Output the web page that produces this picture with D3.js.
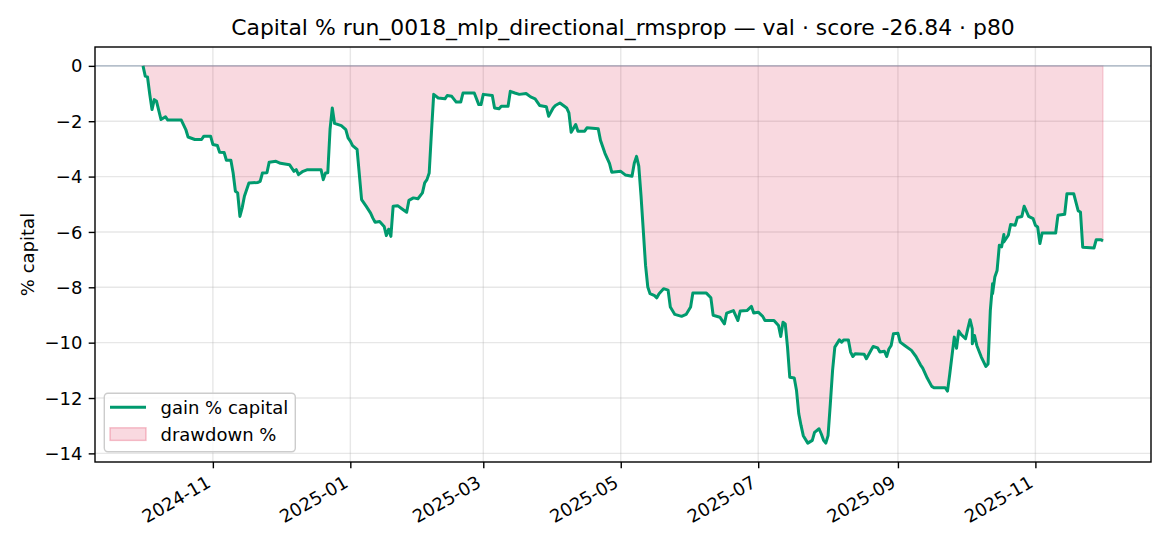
<!DOCTYPE html>
<html><head><meta charset="utf-8">
<script src="https://cdn.jsdelivr.net/npm/d3@7"></script>
<style>
html,body{margin:0;padding:0;background:#fff;}
text{font-family:"DejaVu Sans",sans-serif;fill:#000;}
</style></head><body>
<svg id="chart" width="1170" height="546"></svg>
<script>
// ---------------- data ----------------
const dates = [
"2024-10-01","2024-10-02","2024-10-03","2024-10-04","2024-10-05","2024-10-06","2024-10-07","2024-10-09","2024-10-11","2024-10-12",
"2024-10-18","2024-10-20","2024-10-21","2024-10-24","2024-10-27","2024-10-28","2024-10-31","2024-11-01","2024-11-03","2024-11-04",
"2024-11-06","2024-11-07","2024-11-09","2024-11-10","2024-11-11","2024-11-12","2024-11-13","2024-11-14","2024-11-15","2024-11-17",
"2024-11-21","2024-11-22","2024-11-23","2024-11-25","2024-11-26","2024-11-29","2024-12-01","2024-12-05","2024-12-07","2024-12-08",
"2024-12-09","2024-12-11","2024-12-13","2024-12-19","2024-12-20","2024-12-21","2024-12-22","2024-12-23","2024-12-24","2024-12-25",
"2024-12-28","2024-12-30","2024-12-31","2025-01-01","2025-01-02","2025-01-04","2025-01-06","2025-01-08","2025-01-10","2025-01-11",
"2025-01-12","2025-01-14","2025-01-16","2025-01-17","2025-01-18","2025-01-19","2025-01-20","2025-01-22","2025-01-24","2025-01-26",
"2025-01-27","2025-01-29","2025-01-31","2025-02-02","2025-02-03","2025-02-04","2025-02-05","2025-02-06","2025-02-07","2025-02-09",
"2025-02-12","2025-02-13","2025-02-15","2025-02-17","2025-02-19","2025-02-20","2025-02-25","2025-02-27","2025-02-28","2025-03-01",
"2025-03-05","2025-03-06","2025-03-08","2025-03-09","2025-03-12","2025-03-13","2025-03-15","2025-03-17","2025-03-20","2025-03-22",
"2025-03-24","2025-03-26","2025-03-29","2025-03-30","2025-04-01","2025-04-02","2025-04-04","2025-04-06","2025-04-07","2025-04-08",
"2025-04-09","2025-04-11","2025-04-12","2025-04-15","2025-04-16","2025-04-21","2025-04-22","2025-04-24","2025-04-26","2025-04-27",
"2025-05-01","2025-05-03","2025-05-06","2025-05-07","2025-05-08","2025-05-09","2025-05-10","2025-05-11","2025-05-12","2025-05-13",
"2025-05-14","2025-05-16","2025-05-17","2025-05-18","2025-05-20","2025-05-22","2025-05-23","2025-05-25","2025-05-28","2025-05-30",
"2025-06-01","2025-06-02","2025-06-08","2025-06-10","2025-06-11","2025-06-14","2025-06-16","2025-06-17","2025-06-20","2025-06-22",
"2025-06-23","2025-06-26","2025-06-28","2025-06-29","2025-07-01","2025-07-03","2025-07-04","2025-07-08","2025-07-10","2025-07-11",
"2025-07-12","2025-07-13","2025-07-14","2025-07-15","2025-07-17","2025-07-18","2025-07-19","2025-07-20","2025-07-21","2025-07-23",
"2025-07-25","2025-07-26","2025-07-28","2025-07-29","2025-07-30","2025-07-31","2025-08-01","2025-08-02","2025-08-03","2025-08-04",
"2025-08-06","2025-08-07","2025-08-08","2025-08-10","2025-08-11","2025-08-12","2025-08-13","2025-08-17","2025-08-18","2025-08-20",
"2025-08-21","2025-08-23","2025-08-24","2025-08-26","2025-08-27","2025-08-28","2025-08-29","2025-08-30","2025-09-01","2025-09-02",
"2025-09-04","2025-09-07","2025-09-09","2025-09-11","2025-09-12","2025-09-14","2025-09-16","2025-09-17","2025-09-22","2025-09-23",
"2025-09-24","2025-09-26","2025-09-27","2025-09-28","2025-09-29","2025-10-01","2025-10-02","2025-10-03","2025-10-04","2025-10-04",
"2025-10-05","2025-10-06","2025-10-08","2025-10-10","2025-10-11","2025-10-12","2025-10-13","2025-10-13","2025-10-14","2025-10-15",
"2025-10-16","2025-10-17","2025-10-18","2025-10-18","2025-10-20","2025-10-21","2025-10-23","2025-10-24","2025-10-26","2025-10-27",
"2025-10-29","2025-10-31","2025-11-01","2025-11-02","2025-11-03","2025-11-04","2025-11-10","2025-11-11","2025-11-14","2025-11-15",
"2025-11-18","2025-11-20","2025-11-21","2025-11-22","2025-11-27","2025-11-28","2025-11-30","2025-12-01"
];
const gain = [
0,-0.37,-0.40,-1.03,-1.58,-1.22,-1.28,-1.94,-1.84,-1.96,
-1.96,-2.30,-2.57,-2.66,-2.66,-2.54,-2.54,-2.84,-2.88,-3.12,
-3.13,-3.41,-3.41,-3.87,-4.53,-4.59,-5.44,-5.13,-4.71,-4.23,
-4.21,-4.17,-3.87,-3.86,-3.48,-3.45,-3.52,-3.57,-3.81,-3.75,
-3.93,-3.81,-3.75,-3.75,-4.11,-3.87,-3.86,-2.30,-1.52,-2.08,
-2.16,-2.30,-2.60,-2.72,-2.88,-3.02,-4.83,-5.07,-5.32,-5.50,
-5.65,-5.62,-5.80,-6.13,-5.90,-6.16,-5.07,-5.05,-5.17,-5.29,
-4.86,-4.77,-4.80,-4.59,-4.23,-4.11,-3.87,-2.40,-1.03,-1.16,
-1.19,-1.07,-1.10,-1.31,-1.31,-0.98,-0.98,-1.40,-1.40,-1.03,
-1.07,-1.52,-1.55,-1.46,-1.46,-0.92,-0.98,-1.03,-1.00,-1.12,
-1.19,-1.43,-1.48,-1.82,-1.52,-1.43,-1.34,-1.46,-1.52,-1.70,
-2.40,-2.12,-2.36,-2.36,-2.24,-2.27,-2.69,-3.16,-3.52,-3.84,
-3.81,-3.94,-3.99,-3.52,-3.27,-3.62,-4.70,-5.94,-7.20,-7.99,
-8.23,-8.30,-8.38,-8.23,-8.05,-8.10,-8.71,-8.98,-9.05,-8.98,
-8.71,-8.21,-8.21,-8.38,-9.01,-9.08,-9.32,-8.93,-8.84,-9.20,
-8.86,-8.84,-8.69,-8.93,-8.90,-9.05,-9.20,-9.20,-9.38,-9.78,
-9.26,-9.32,-10.16,-11.25,-11.28,-11.73,-12.57,-12.99,-13.36,-13.63,
-13.53,-13.24,-13.11,-13.30,-13.53,-13.63,-13.36,-12.21,-11.00,-10.16,
-9.90,-9.98,-9.90,-9.90,-10.34,-10.50,-10.40,-10.42,-10.58,-10.28,
-10.14,-10.19,-10.34,-10.31,-10.50,-10.23,-10.10,-9.68,-9.66,-9.98,
-10.10,-10.28,-10.50,-10.80,-10.92,-11.28,-11.58,-11.63,-11.63,-11.75,
-11.13,-9.80,-10.20,-9.58,-9.70,-9.86,-9.50,-9.17,-9.50,-10.04,
-9.74,-10.10,-10.52,-10.86,-10.77,-8.84,-7.87,-8.23,-7.63,-7.39,
-6.48,-6.54,-6.09,-6.36,-6.12,-5.73,-5.76,-5.48,-5.44,-5.07,
-5.44,-5.52,-5.76,-5.82,-6.42,-6.04,-6.04,-5.40,-5.36,-4.62,
-4.62,-5.24,-5.28,-6.55,-6.58,-6.28,-6.28,-6.32
];
const yTicks = [0, -2, -4, -6, -8, -10, -12, -14];
const xTickDates = ["2024-11-01","2025-01-01","2025-03-01","2025-05-01","2025-07-01","2025-09-01","2025-11-01"];
const titleText = "Capital % run_0018_mlp_directional_rmsprop \u2014 val \u00b7 score -26.84 \u00b7 p80";
const yLabelText = "% capital";
const legendLabels = ["gain % capital", "drawdown %"];

// ---------------- layout / style ----------------
const W = 1170, H = 546;
const plot = {left: 95, right: 1151, top: 47, bottom: 462};
const lineColor = "#009A6E";
const fillColor = "crimson";
const fillAlpha = 0.16;

const parse = d3.utcParse("%Y-%m-%d");
let peak = -Infinity;
const data = dates.map((d, i) => {
  peak = Math.max(peak, gain[i], 0);
  return {date: parse(d), gain: gain[i], peak: peak};
});

const t0 = d3.min(data, d => d.date), t1 = d3.max(data, d => d.date);
const span = t1 - t0;
const x = d3.scaleUtc()
  .domain([new Date(+t0 - 0.05 * span), new Date(+t1 + 0.05 * span)])
  .range([plot.left, plot.right]);

const yMin = Math.min(0, d3.min(gain)), yMax = Math.max(0, d3.max(gain));
const yr = yMax - yMin;
const y = d3.scaleLinear()
  .domain([yMin - 0.05 * yr, yMax + 0.05 * yr])
  .range([plot.bottom, plot.top]);

const svg = d3.select("#chart");
svg.append("rect").attr("width", W).attr("height", H).attr("fill", "#fff");

// grid
const grid = svg.append("g");
grid.selectAll("line.gx").data(xTickDates.map(parse)).join("line")
  .attr("x1", d => x(d)).attr("x2", d => x(d))
  .attr("y1", plot.top).attr("y2", plot.bottom)
  .attr("stroke", "#b0b0b0").attr("stroke-opacity", 0.3).attr("stroke-width", 1.4);
grid.selectAll("line.gy").data(yTicks).join("line")
  .attr("x1", plot.left).attr("x2", plot.right)
  .attr("y1", d => y(d)).attr("y2", d => y(d))
  .attr("stroke", "#b0b0b0").attr("stroke-opacity", 0.3).attr("stroke-width", 1.4);

// drawdown fill
const area = d3.area()
  .x(d => x(d.date))
  .y0(d => y(d.peak))
  .y1(d => y(d.gain));
svg.append("path").datum(data)
  .attr("d", area)
  .attr("fill", fillColor).attr("fill-opacity", fillAlpha)
  .attr("stroke", fillColor).attr("stroke-opacity", fillAlpha).attr("stroke-width", 1.4);

// zero line
svg.append("line")
  .attr("x1", plot.left).attr("x2", plot.right)
  .attr("y1", y(0)).attr("y2", y(0))
  .attr("stroke", "#8a9bb0").attr("stroke-opacity", 0.75).attr("stroke-width", 1.4);

// gain line
const line = d3.line().x(d => x(d.date)).y(d => y(d.gain));
svg.append("path").datum(data)
  .attr("d", line)
  .attr("fill", "none").attr("stroke", lineColor)
  .attr("stroke-width", 3).attr("stroke-linejoin", "round").attr("stroke-linecap", "butt");

// axes
const fmtY = v => (v < 0 ? "\u2212" + Math.abs(v) : String(v));
const yAxis = d3.axisLeft(y).tickValues(yTicks).tickFormat(fmtY)
  .tickSize(6.3).tickPadding(6.3).tickSizeOuter(0);
const gy = svg.append("g").attr("transform", `translate(${plot.left},0)`).call(yAxis);
gy.select(".domain").remove();
gy.selectAll(".tick line").attr("stroke", "#000").attr("stroke-width", 1.4);
gy.selectAll(".tick text").attr("font-size", 18).attr("font-family", "DejaVu Sans").attr("dy", "0.34em");

const fmtX = d3.utcFormat("%Y-%m");
const xAxis = d3.axisBottom(x).tickValues(xTickDates.map(parse)).tickFormat(fmtX)
  .tickSize(6.3).tickSizeOuter(0);
const gx = svg.append("g").attr("transform", `translate(0,${plot.bottom})`).call(xAxis);
gx.select(".domain").remove();
gx.selectAll(".tick line").attr("stroke", "#000").attr("stroke-width", 1.4);
gx.selectAll(".tick text")
  .attr("font-size", 18).attr("font-family", "DejaVu Sans")
  .attr("x", 0).attr("y", 0).attr("dy", 0)
  .attr("text-anchor", "end")
  .attr("transform", "translate(-1.5,24) rotate(-30)");

// frame
svg.append("rect")
  .attr("x", plot.left).attr("y", plot.top)
  .attr("width", plot.right - plot.left).attr("height", plot.bottom - plot.top)
  .attr("fill", "none").attr("stroke", "#000").attr("stroke-width", 1.4);

// title
svg.append("text")
  .attr("x", (plot.left + plot.right) / 2).attr("y", 34.5)
  .attr("text-anchor", "middle").attr("font-size", 21.9)
  .text(titleText);

// y label
svg.append("text")
  .attr("transform", `translate(34,${(plot.top + plot.bottom) / 2}) rotate(-90)`)
  .attr("text-anchor", "middle").attr("font-size", 18)
  .text(yLabelText);

// legend
const lg = svg.append("g");
lg.append("rect")
  .attr("x", 104.3).attr("y", 393.3).attr("width", 191).attr("height", 58.4)
  .attr("rx", 3.6).attr("ry", 3.6)
  .attr("fill", "#fff").attr("fill-opacity", 0.8)
  .attr("stroke", "#cccccc").attr("stroke-width", 1.4);
lg.append("line")
  .attr("x1", 110).attr("x2", 146).attr("y1", 407.3).attr("y2", 407.3)
  .attr("stroke", lineColor).attr("stroke-width", 3);
lg.append("rect")
  .attr("x", 110).attr("y", 427.8).attr("width", 36).attr("height", 12.6)
  .attr("fill", fillColor).attr("fill-opacity", fillAlpha)
  .attr("stroke", fillColor).attr("stroke-opacity", fillAlpha * 1.6).attr("stroke-width", 1.4);
lg.selectAll("text.lt").data(legendLabels).join("text")
  .attr("x", 160.5).attr("y", (d, i) => 413.6 + i * 27)
  .attr("font-size", 18)
  .text(d => d);
</script>
</body></html>
